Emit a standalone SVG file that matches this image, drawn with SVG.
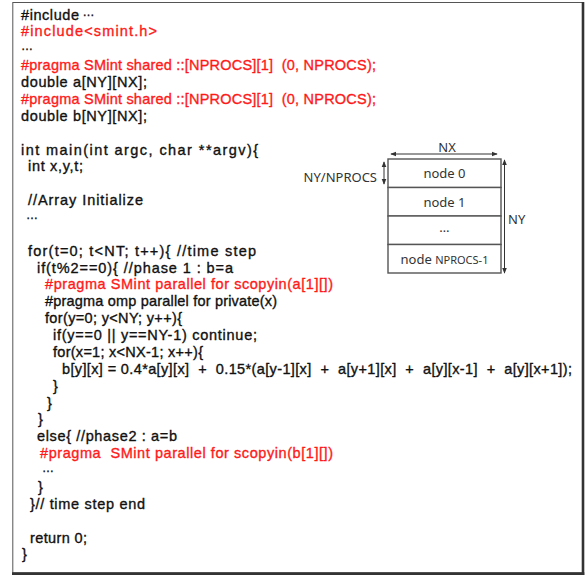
<svg xmlns="http://www.w3.org/2000/svg" width="588" height="576" viewBox="0 0 588 576">
<style>
.c{font-family:"Liberation Sans",Arial,sans-serif;font-size:14.5px;fill:#111;stroke:#111;stroke-width:0.35px;white-space:pre}
.r{fill:#ff1a1a;stroke:#ff1a1a}
.el{font-size:12px}
.d{font-family:"Noto Sans","DejaVu Sans",sans-serif;font-size:13px;fill:#333}
.box{fill:#fff;stroke:#555;stroke-width:1.4}
.ar{stroke:#333;stroke-width:1;fill:none;marker-start:url(#ah);marker-end:url(#ah)}
</style>
<defs>
<marker id="ah" viewBox="0 0 8 8" refX="7" refY="4" markerWidth="6" markerHeight="6" orient="auto-start-reverse" markerUnits="userSpaceOnUse">
<path d="M0,0.8 L8,4 L0,7.2 Z" fill="#333"/>
</marker>
</defs>
<rect x="0" y="0" width="588" height="576" fill="#fff"/>
<g id="frame">
<rect x="12.8" y="2.5" width="570" height="570.5" fill="none" stroke="#555" stroke-width="1"/>
<line x1="583" y1="2" x2="583" y2="575" stroke="#333" stroke-width="2.6"/>
<line x1="12" y1="573.6" x2="584.3" y2="573.6" stroke="#333" stroke-width="2.6"/>
</g>
<g id="code">
<text class="c" x="21" y="19.5"><tspan textLength="58">#include</tspan><tspan class="el" dx="3" dy="-4">…</tspan></text>
<text class="c r" x="21" y="36.4" textLength="136">#include&lt;smint.h&gt;</text>
<text class="c el" x="21" y="50">…</text>
<text class="c r" x="21" y="70.1" textLength="355">#pragma SMint shared ::[NPROCS][1]  (0, NPROCS);</text>
<text class="c" x="21" y="87" textLength="126">double a[NY][NX];</text>
<text class="c r" x="21" y="103.8" textLength="355">#pragma SMint shared ::[NPROCS][1]  (0, NPROCS);</text>
<text class="c" x="21" y="120.7" textLength="126">double b[NY][NX];</text>
<text class="c" x="21" y="154.5" textLength="237">int main(int argc, char **argv){</text>
<text class="c" x="28" y="171.3" textLength="55">int x,y,t;</text>
<text class="c" x="28" y="205.1" textLength="115">//Array Initialize</text>
<text class="c el" x="26" y="218.5">…</text>
<text class="c" x="28" y="255.7" textLength="228">for(t=0; t&lt;NT; t++){ //time step</text>
<text class="c" x="37" y="272.6" textLength="196">if(t%2==0){ //phase 1 : b=a</text>
<text class="c r" x="45" y="289.4" textLength="288">#pragma SMint parallel for scopyin(a[1][])</text>
<text class="c" x="45" y="306.3" textLength="232">#pragma omp parallel for private(x)</text>
<text class="c" x="45" y="323.2" textLength="137">for(y=0; y&lt;NY; y++){</text>
<text class="c" x="53" y="340" textLength="204">if(y==0 || y==NY-1) continue;</text>
<text class="c" x="53" y="356.9" textLength="150">for(x=1; x&lt;NX-1; x++){</text>
<text class="c" x="62" y="373.8" textLength="510">b[y][x] = 0.4*a[y][x]  +  0.15*(a[y-1][x]  +  a[y+1][x]  +  a[y][x-1]  +  a[y][x+1]);</text>
<text class="c" x="53" y="390.6">}</text>
<text class="c" x="47" y="407.5">}</text>
<text class="c" x="38" y="424.4">}</text>
<text class="c" x="37" y="441.3" textLength="140">else{ //phase2 : a=b</text>
<text class="c r" x="40" y="458.1" textLength="293">#pragma  SMint parallel for scopyin(b[1][])</text>
<text class="c el" x="42" y="471.6">…</text>
<text class="c" x="38" y="491.9">}</text>
<text class="c" x="30" y="508.7" textLength="115">}// time step end</text>
<text class="c" x="30" y="542.5" textLength="57">return 0;</text>
<text class="c" x="22" y="559.3">}</text>
</g>
<g id="node0">
<rect class="box" x="388" y="159" width="113" height="28.5"/>
<text class="d" x="444.5" y="178" text-anchor="middle">node 0</text>
</g>
<g id="node1">
<rect class="box" x="388" y="187.5" width="113" height="28.5"/>
<text class="d" x="444.5" y="206.5" text-anchor="middle">node 1</text>
</g>
<g id="nodeDots">
<rect class="box" x="388" y="216" width="113" height="28.5"/>
<text class="d" x="444.5" y="232" text-anchor="middle">…</text>
</g>
<g id="nodeLast">
<rect class="box" x="388" y="244.5" width="113" height="28.5"/>
<text class="d" x="444.5" y="264" text-anchor="middle">node <tspan font-size="11">NPROCS-1</tspan></text>
</g>
<g id="connectors">
<line class="ar" x1="391" y1="154" x2="497" y2="154"/>
<line class="ar" x1="504.5" y1="160" x2="504.5" y2="273"/>
<line class="ar" x1="384" y1="162" x2="384" y2="184"/>
</g>
<g id="labels">
<text class="d" x="447" y="151.5" text-anchor="middle">NX</text>
<text class="d" x="377" y="182" text-anchor="end">NY/NPROCS</text>
<text class="d" x="508" y="224">NY</text>
</g>
</svg>
